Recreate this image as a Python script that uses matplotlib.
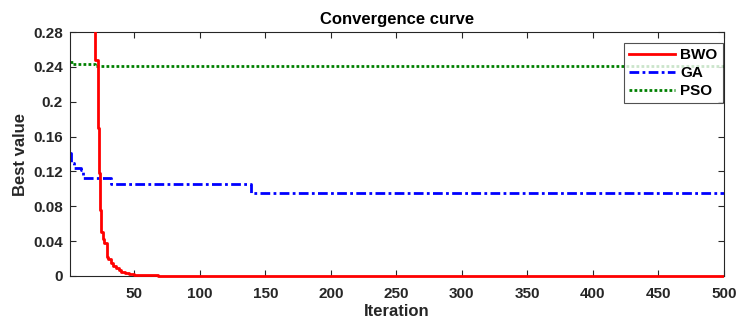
"""Convergence curves of BWO, GA and PSO."""
import matplotlib
matplotlib.use("Agg")
import matplotlib.pyplot as plt
from matplotlib.transforms import Bbox, TransformedBbox

# best value so far; each value holds from its iteration until the next one
bwo_iter = [1, 10, 17, 20, 22, 23, 24, 25, 26, 27, 29, 30, 32, 34, 36, 38, 40, 43, 46, 50, 55, 68, 500]
bwo_val = [1.2, 0.8, 0.45, 0.248, 0.17, 0.118, 0.076, 0.05, 0.042, 0.038, 0.022, 0.019,
           0.015, 0.012, 0.009, 0.007, 0.005, 0.003, 0.002, 0.0012, 0.0006, 0.0, 0.0]

ga_iter = [1, 2, 4, 9, 11, 32, 139, 500]
ga_val = [0.141, 0.130, 0.124, 0.122, 0.112, 0.106, 0.095, 0.095]

pso_iter = [1, 3, 20, 500]
pso_val = [0.246, 0.243, 0.2405, 0.2405]

y_ticks = [0, 0.04, 0.08, 0.12, 0.16, 0.2, 0.24, 0.28]
x_ticks = [50, 100, 150, 200, 250, 300, 350, 400, 450, 500]

plt.rcParams["font.family"] = ["Liberation Sans", "DejaVu Sans"]
plt.rcParams["font.weight"] = "bold"

fig = plt.figure(figsize=(7.38, 3.25), dpi=100)
ax = fig.add_axes([0.0949, 0.1508, 0.886, 0.7507])

# let the lines spill a little below the x axis, as in the original
clip = TransformedBbox(Bbox([[0, -0.03], [1, 1]]), ax.transAxes)

(red,) = ax.plot(bwo_iter, bwo_val, drawstyle="steps-post", color="#ff0000", lw=2, label="BWO")
ax.plot(ga_iter, ga_val, drawstyle="steps-post", color="#0000ff", lw=2,
        linestyle=(0, (3.5, 1.2, 1.0, 1.2)), label="GA")
ax.plot(pso_iter, pso_val, drawstyle="steps-post", color="#008000", lw=2,
        linestyle=(0, (1.0, 0.8)), label="PSO")
red.set_clip_box(clip)
red.set_zorder(3)

ax.set_xlim(1, 500)
ax.set_ylim(0, 0.28)
ax.set_xticks(x_ticks)
ax.set_yticks(y_ticks)
ax.set_yticklabels(["%g" % v for v in y_ticks])
ax.tick_params(direction="in", top=True, right=True, length=4, width=0.8,
               colors="#262626", labelsize=11, labelcolor="#262626")
ax.tick_params(axis="x", pad=8)
ax.tick_params(axis="y", pad=5)
for side in ax.spines.values():
    side.set_color("#262626")
    side.set_linewidth(0.8)

ax.set_title("Convergence curve", fontsize=12, fontweight="bold", color="black", pad=6)
ax.set_xlabel("Iteration", fontsize=12, fontweight="bold", color="#262626", labelpad=2)
ax.set_ylabel("Best value", fontsize=12, fontweight="bold", color="#262626", labelpad=4)

leg = ax.legend(loc="upper right", bbox_to_anchor=(0.9793, 0.8677),
                bbox_transform=fig.transFigure, borderaxespad=0,
                fontsize=11, frameon=True, fancybox=False,
                handlelength=3.0, labelspacing=0.25,
                borderpad=0.35, handletextpad=0.35)
leg.get_frame().set_edgecolor("#262626")
leg.get_frame().set_linewidth(0.8)

fig.savefig("out.png", dpi=100, facecolor="white")
